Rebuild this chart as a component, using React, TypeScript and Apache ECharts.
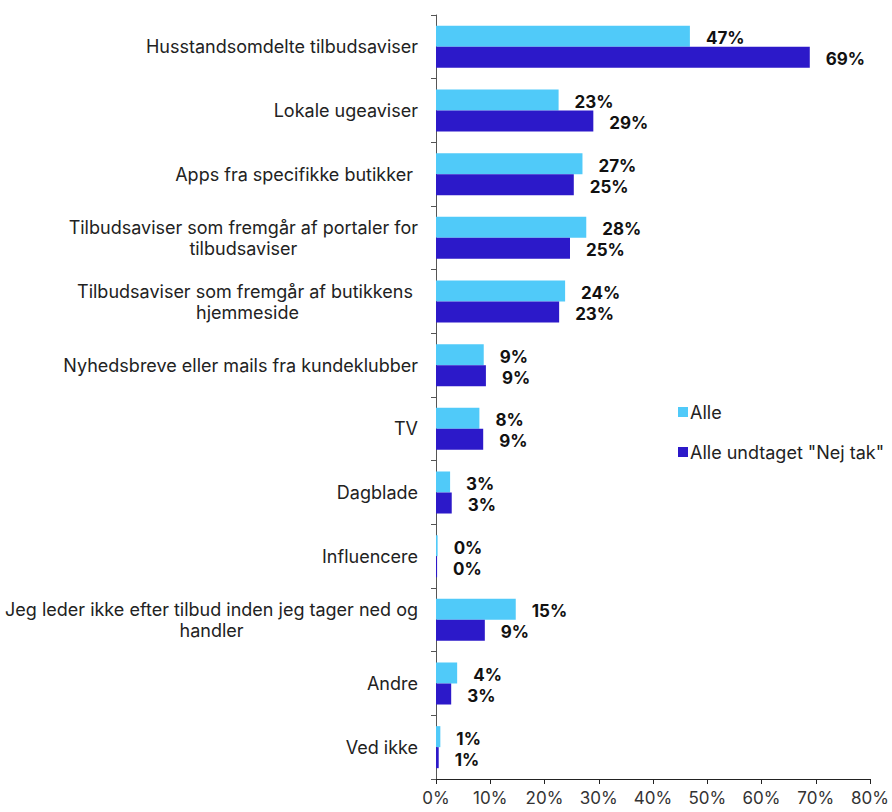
import React, { useEffect, useRef } from "react";
import * as echarts from "echarts";

const categories: string[] = [
  "Husstandsomdelte tilbudsaviser",
  "Lokale ugeaviser",
  "Apps fra specifikke butikker ",
  "Tilbudsaviser som fremgår af portaler for\ntilbudsaviser",
  "Tilbudsaviser som fremgår af butikkens \nhjemmeside",
  "Nyhedsbreve eller mails fra kundeklubber",
  "TV",
  "Dagblade",
  "Influencere",
  "Jeg leder ikke efter tilbud inden jeg tager ned og\nhandler",
  "Andre",
  "Ved ikke",
];

const seriesNames: string[] = ["Alle", 'Alle undtaget "Nej tak"'];

const alleValues: number[] = [46.8, 22.6, 27.0, 27.7, 23.8, 8.8, 8.0, 2.6, 0.3, 14.7, 3.9, 0.8];
const nejTakValues: number[] = [68.9, 29.0, 25.4, 24.7, 22.7, 9.2, 8.7, 2.9, 0.2, 9.0, 2.8, 0.5];

const xTicks = { min: 0, max: 80, interval: 10 };

const FONT = "Inter";

export default function App() {
  const ref = useRef<HTMLDivElement>(null);

  useEffect(() => {
    if (!ref.current) return;
    const chart = echarts.init(ref.current, undefined, { renderer: "svg" });

    const labelStyle = {
      show: true,
      position: "right" as const,
      distance: 16,
      offset: [0, 2],
      formatter: (p: any) => `${Math.round(p.value)}%`,
      fontFamily: FONT,
      fontSize: 17,
      fontWeight: "bold" as const,
      color: "#111",
    };

    chart.setOption({
      animation: false,
      backgroundColor: "#ffffff",
      grid: { left: 436, right: 22, top: 15, bottom: 33, containLabel: false },
      legend: {
        orient: "vertical",
        left: 673,
        top: 398,
        itemWidth: 10,
        itemHeight: 10,
        itemGap: 22,
        icon: "rect",
        textStyle: { fontFamily: FONT, fontSize: 18, color: "#222", padding: [0, 0, 0, -3] },
        data: seriesNames,
      },
      xAxis: {
        type: "value",
        min: xTicks.min,
        max: xTicks.max,
        interval: xTicks.interval,
        axisLine: { show: true, lineStyle: { color: "#222", width: 1 } },
        axisTick: { show: true, length: 5, lineStyle: { color: "#222" } },
        splitLine: { show: false },
        axisLabel: {
          formatter: "{value}%",
          fontFamily: FONT,
          fontSize: 17,
          color: "#333",
          margin: 10,
        },
      },
      yAxis: {
        type: "category",
        inverse: true,
        data: categories,
        axisLine: { show: true, lineStyle: { color: "#555", width: 1 } },
        axisTick: { show: true, length: 5, lineStyle: { color: "#555" } },
        axisLabel: {
          margin: 18,
          fontFamily: FONT,
          fontSize: 18,
          color: "#222",
          lineHeight: 21,
          formatter: (v: string) =>
            v
              .split("\n")
              .map((line) => `{c|${line}}`)
              .join("\n"),
          rich: {
            c: { align: "center", fontFamily: FONT, fontSize: 18, color: "#222", lineHeight: 21 },
          },
        },
      },
      series: [
        {
          name: seriesNames[0],
          type: "bar",
          data: alleValues,
          barGap: "0%",
          barCategoryGap: "34%",
          itemStyle: { color: "#50CAF9" },
          label: labelStyle,
        },
        {
          name: seriesNames[1],
          type: "bar",
          data: nejTakValues,
          barGap: "0%",
          barCategoryGap: "34%",
          itemStyle: { color: "#2C19C9" },
          label: labelStyle,
        },
      ],
    });

    return () => chart.dispose();
  }, []);

  return (
    <div
      ref={ref}
      style={{ position: "absolute", left: 0, top: 0, width: 892, height: 812 }}
    />
  );
}
